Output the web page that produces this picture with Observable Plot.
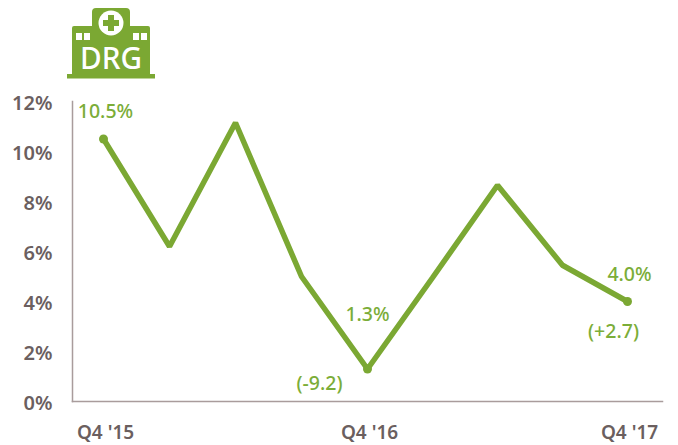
<!DOCTYPE html>
<html><head><meta charset="utf-8">
<script src="https://cdn.jsdelivr.net/npm/d3@7"></script>
<script src="https://cdn.jsdelivr.net/npm/@observablehq/plot@0.6"></script>
<style>
html,body{margin:0;padding:0;background:#fff;overflow:hidden}
#wrap{position:relative;width:678px;height:445px}
#icon{position:absolute;left:67px;top:7px}
svg{display:block}
</style></head>
<body><div id="wrap">
<svg id="icon" width="88" height="72" viewBox="0 0 88 72">
<rect x="0" y="67" width="88" height="4.5" fill="#7ba833"/>
<path d="M5 68V21a2 2 0 0 1 2-2H25V5a4 4 0 0 1 4-4H59a4 4 0 0 1 4 4V19H81a2 2 0 0 1 2 2V68Z" fill="#7ba833"/>
<circle cx="44" cy="16" r="12.5" fill="#fff"/>
<path d="M41 8h6v5h5v6h-5v5h-6v-5h-5v-6h5Z" fill="#7ba833"/>
<rect x="9" y="26" width="6" height="7" fill="#fff"/><rect x="17" y="26" width="6" height="7" fill="#fff"/>
<rect x="66" y="26" width="6" height="7" fill="#fff"/><rect x="74" y="26" width="6" height="7" fill="#fff"/>
<text x="44" y="62" text-anchor="middle" fill="#fff" font-family="Noto Sans" font-weight="500" font-size="31" textLength="62" lengthAdjust="spacingAndGlyphs">DRG</text>
</svg>
<div id="chart"></div>
</div>
<script>
const quarters = ["Q4 '15","Q1 '16","Q2 '16","Q3 '16","Q4 '16","Q1 '17","Q2 '17","Q3 '17","Q4 '17"];
const shares = [10.5, 6.2, 11.15, 5.0, 1.3, 4.95, 8.65, 5.45, 4.0];
const shownTicks = [0, 4, 8];
const yTicks = [0, 2, 4, 6, 8, 10, 12];
const endpoints = [0, 4, 8];
const valueLabels = ["10.5%","1.3%","4.0%"];
const valueDx = [2, 0, 2];
const valueDy = [-27, -54, -27];
const changeLabels = ["(-9.2)","(+2.7)"];
const changeAt = [4, 8];
const changeDx = [-48, -14];
const changeDy = [15, 30];

const green = "#7ba833", textGreen = "#7bad38", grey = "#6b5f5f", axisGrey = "#a99c9c";
const rows = quarters.map((q,i)=>({i, v: shares[i]}));
const ends = endpoints.map((q,k)=>({i: q, v: shares[q], t: valueLabels[k], dx: valueDx[k], dy: valueDy[k]}));
const changes = changeAt.map((q,k)=>({i: q, v: shares[q], t: changeLabels[k], dx: changeDx[k], dy: changeDy[k]}));
const place = list => function(index, scales, values, dims, ctx, next){
  const g = next(index, scales, values, dims, ctx);
  d3.select(g).selectAll("text").attr("transform", function(_, k){
    const i = index[k];
    return `translate(${values.x[i] + list[i].dx},${values.y[i] + list[i].dy})`;
  });
  return g;
};

const chart = Plot.plot({
  width: 678, height: 445,
  marginLeft: 72, marginRight: 16, marginTop: 101, marginBottom: 44,
  style: {fontFamily: "'Noto Sans', sans-serif", background: "#fff"},
  x: {type: "linear", domain: [0, 4, 8], range: [103, 367, 627], label: null},
  y: {domain: [0, 12], label: null},
  marks: [
    Plot.frame({anchor: "left", stroke: axisGrey, strokeWidth: 1.5, strokeOpacity: 1}),
    Plot.frame({anchor: "bottom", stroke: axisGrey, strokeWidth: 1.5, strokeOpacity: 1}),
    Plot.axisY({ticks: yTicks, tickSize: 0, tickPadding: 20, tickFormat: d => d + "%", fontSize: 20, fontWeight: 600, fill: grey, label: null, dy: 2}),
    Plot.axisX({ticks: shownTicks, tickSize: 0, tickPadding: 24, fontSize: 19, fontWeight: 600, fill: grey, label: null, dx: 2, tickFormat: d => quarters[d].replace(" ", "\u00a0")}),
    Plot.line(rows, {x: "i", y: "v", stroke: green, strokeWidth: 5.5, strokeLinejoin: "miter"}),
    Plot.dot([rows[0], rows[4], rows[8]], {x: "i", y: "v", r: 4.5, fill: green}),
    Plot.text(ends, {x: "i", y: "v", text: "t", fontSize: 19.5, fontWeight: 500, fill: textGreen, render: place(ends)}),
    Plot.text(changes, {x: "i", y: "v", text: "t", fontSize: 19.5, fontWeight: 500, fill: textGreen, render: place(changes)})
  ]
});
document.getElementById("chart").appendChild(chart);
</script>
</body></html>
